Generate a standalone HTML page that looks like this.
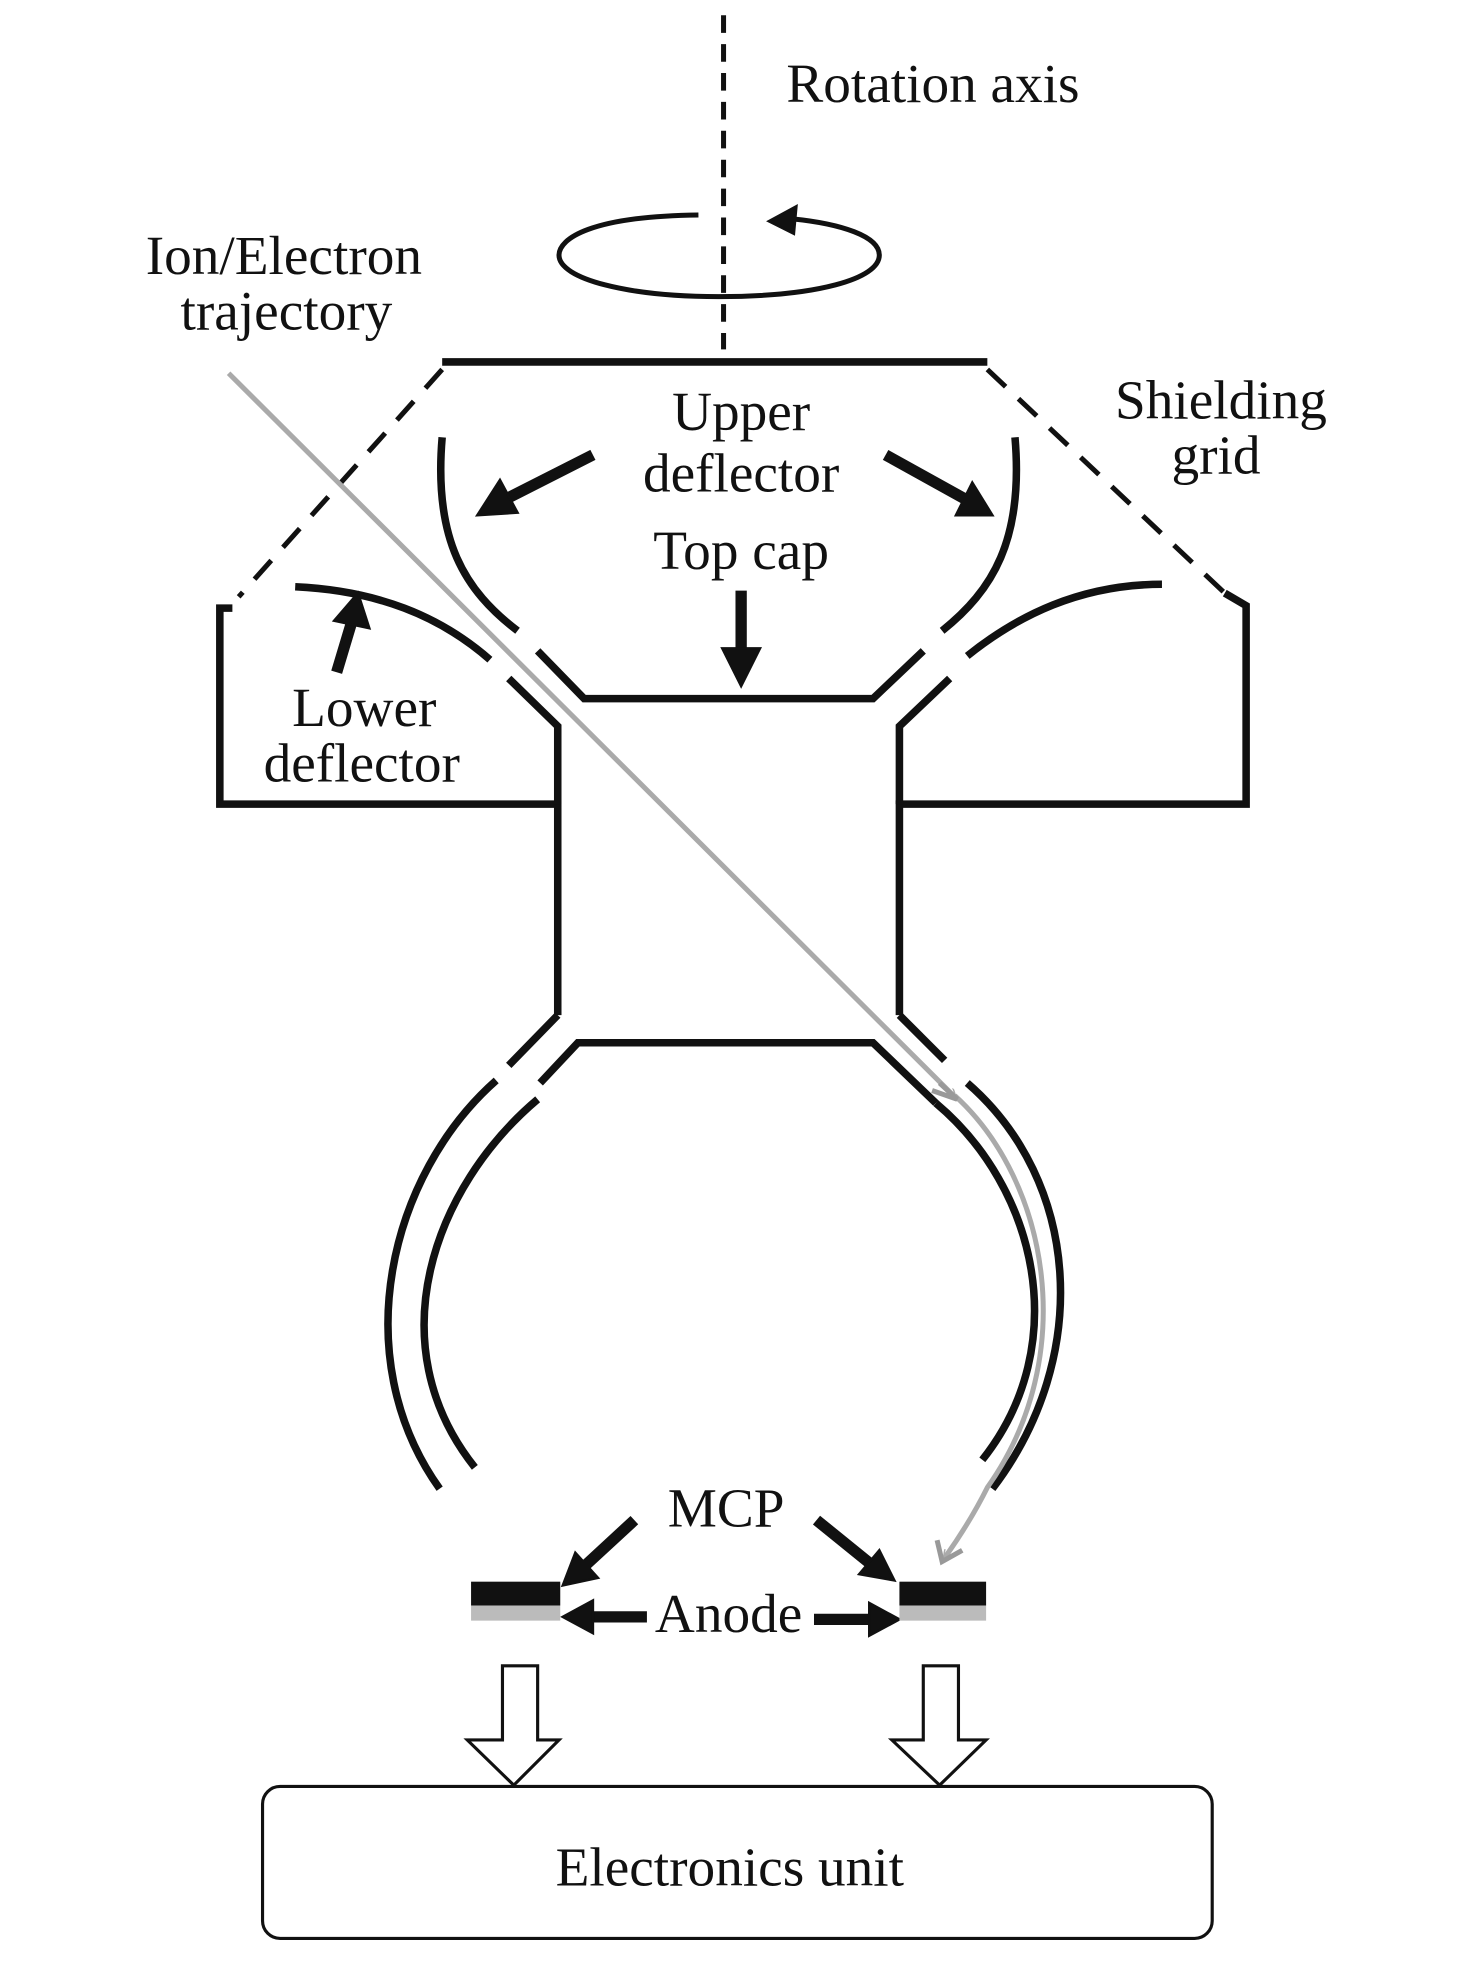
<!DOCTYPE html>
<html><head><meta charset="utf-8"><style>
html,body{margin:0;padding:0;background:#fff}
svg{display:block}
text{font-family:"Liberation Serif",serif;font-size:44px;fill:#111}
</style></head><body>
<svg width="1476" height="1970" viewBox="0 0 1175 1568" xmlns="http://www.w3.org/2000/svg">
<defs>
<marker id="ga" markerWidth="8" markerHeight="8" refX="6" refY="4" orient="auto" markerUnits="userSpaceOnUse" viewBox="0 0 8 8"><path d="M0,0 L8,4 L0,8" fill="none" stroke="#aaa" stroke-width="1.2"/></marker>
</defs>
<g fill="none" stroke="#111" stroke-width="6">
<line x1="576" y1="12" x2="576" y2="278" stroke-width="4" stroke-dasharray="14,9"/>
<path d="M556,171 C470,172 445,190 445,203 C445,222 500,236 572,236 C650,236 700,222 700,203 C700,188 670,178 630,174" stroke-width="4"/>
<path d="M612,176 L634,164 L632,186 Z" fill="#111" stroke-width="2"/>
<line x1="352" y1="288" x2="786" y2="288"/>
<line x1="352" y1="294" x2="190" y2="475" stroke-width="4" stroke-dasharray="20,14"/>
<line x1="786" y1="294" x2="975" y2="472" stroke-width="4" stroke-dasharray="20,14"/>
<path d="M185,484 L175,484 L175,640 L444,640 L444,808"/>
<path d="M975,472 L992,482 L992,640 L716,640 L716,808"/>
<path d="M352,348 C345,430 370,470 412,502"/>
<path d="M808,348 C815,430 790,470 750,502"/>
<path d="M428,518 L465,556 L695,556 L735,518"/>
<path d="M235,467 C300,470 350,490 390,525"/>
<path d="M925,465 C860,465 810,490 770,522"/>
<path d="M405,540 L444,578 L444,640"/>
<path d="M756,540 L716,578 L716,640"/>
<line x1="444" y1="808" x2="405" y2="848"/>
<line x1="716" y1="808" x2="752" y2="844"/>
<path d="M430,862 L460,830 L695,830 L745,878"/>
<path d="M395,860 C310,935 275,1080 350,1185"/>
<path d="M428,875 C345,945 300,1070 378,1168"/>
<path d="M770,862 C860,940 870,1080 790,1185"/>
<path d="M745,878 C825,945 855,1070 782,1162"/>
</g>
<g fill="none" stroke="#aaa" stroke-width="4">
<line x1="182" y1="297" x2="760" y2="873" marker-end="url(#ga)"/>
<path d="M760,872 C835,940 860,1080 786,1184 Q772,1212 752,1240" marker-end="url(#ga)"/>
</g>
<g fill="none" stroke="#999" stroke-width="4">
<path d="M748,862 L762,875 L742,868" />
<path d="M746,1226 L750,1243 L766,1234"/>
</g>
<g stroke="#111" stroke-width="9" fill="#111">
<line x1="472" y1="362" x2="405" y2="396"/><path d="M380,410 L398,382 L412,408 Z" stroke-width="2"/>
<line x1="705" y1="362" x2="768" y2="397"/><path d="M790,410 L761,410 L774,384 Z" stroke-width="2"/>
<line x1="590" y1="470" x2="590" y2="520"/><path d="M590,546 L575,516 L605,516 Z" stroke-width="2"/>
<line x1="268" y1="535" x2="280" y2="495"/><path d="M285,472 L294,500 L266,494 Z" stroke-width="2"/>
<line x1="505" y1="1210" x2="466" y2="1246"/><path d="M448,1262 L458,1236 L476,1256 Z" stroke-width="2"/>
<line x1="650" y1="1210" x2="692" y2="1244"/><path d="M712,1258 L684,1253 L700,1234 Z" stroke-width="2"/>
<line x1="515" y1="1287" x2="470" y2="1287"/><path d="M448,1287 L472,1274 L472,1300 Z" stroke-width="2"/>
<line x1="648" y1="1289" x2="692" y2="1289"/><path d="M716,1289 L692,1276 L692,1302 Z" stroke-width="2"/>
</g>
<rect x="375" y="1259" width="71" height="19" fill="#111"/>
<rect x="375" y="1278" width="71" height="12" fill="#bbb"/>
<rect x="716" y="1259" width="69" height="19" fill="#111"/>
<rect x="716" y="1278" width="69" height="12" fill="#bbb"/>
<g fill="#fff" stroke="#111" stroke-width="2.5">
<path d="M400,1326 L428,1326 L428,1385 L445,1385 L409,1421 L372,1385 L400,1385 Z"/>
<path d="M735,1326 L763,1326 L763,1385 L785,1385 L748,1421 L710,1385 L735,1385 Z"/>
<rect x="209" y="1422" width="756" height="121" rx="14" stroke-width="2.5"/>
</g>
<text x="626" y="81">Rotation axis</text>
<text x="226" y="218" text-anchor="middle">Ion/Electron</text>
<text x="228" y="262" text-anchor="middle">trajectory</text>
<text x="590" y="342" text-anchor="middle">Upper</text>
<text x="590" y="391" text-anchor="middle">deflector</text>
<text x="590" y="453" text-anchor="middle">Top cap</text>
<text x="972" y="333" text-anchor="middle">Shielding</text>
<text x="968" y="377" text-anchor="middle">grid</text>
<text x="290" y="578" text-anchor="middle">Lower</text>
<text x="288" y="622" text-anchor="middle">deflector</text>
<text x="578" y="1215" text-anchor="middle">MCP</text>
<text x="580" y="1299" text-anchor="middle">Anode</text>
<text x="581" y="1501" text-anchor="middle">Electronics unit</text>
</svg>
</body></html>
